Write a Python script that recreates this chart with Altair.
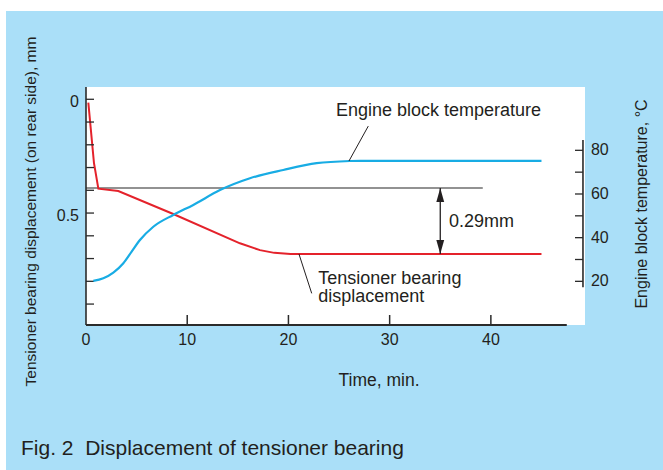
import altair as alt
import pandas as pd

# ---- data -------------------------------------------------------------
# Tensioner bearing displacement (mm) vs time (min)
disp_time = [0.23, 0.79, 1.22, 3.19, 8.62, 15.21, 17.19, 18.6, 20.2, 30.0, 45.0]
disp_mm = [0.015, 0.281, 0.393, 0.403, 0.504, 0.633, 0.663, 0.675, 0.68, 0.68, 0.68]

# Engine block temperature (deg C) vs time (min)
temp_time = [0.72, 1.71, 2.70, 3.69, 4.51, 5.33, 6.65, 8.62, 10.60, 13.24,
             16.20, 19.49, 22.79, 26.08, 27.07, 45.0]
temp_c = [20.2, 21.4, 24.0, 28.3, 33.6, 38.9, 45.0, 50.4, 55.0, 61.8,
          67.2, 71.0, 74.1, 75.1, 75.2, 75.2]

# initial settled level and the change after warm-up
ref_level = 0.39
shift_mm = 0.29
ref_end_time = 39.2
arrow_time = 35.0

x_ticks = [0, 10, 20, 30, 40]
x_labels = ["0", "10", "20", "30", "40"]
disp_ticks = [0, 0.1, 0.2, 0.3, 0.4, 0.5, 0.6, 0.7, 0.8, 0.9]
disp_labels = ["0", "", "", "", "", "0.5", "", "", "", ""]
temp_ticks = [20, 30, 40, 50, 60, 70, 80]
temp_labels = ["20", "", "40", "", "60", "", "80"]

# ---- style ------------------------------------------------------------
W, H = 499, 238
PAD_L, PAD_T = 86, 87
FONT = "Liberation Sans"
INK = "#231f20"
AXIS = "#2b2b2b"
SKY = "#aadff8"
RED = "#e4222b"
CYAN = "#18ace4"
GREY = "#6e6e6e"

X_DOM = [0, 49.3]
D_DOM = [-0.054, 0.992]
T_DOM = [0, 109]
RIGHT_AXIS_T = 49.1          # time position of the temperature axis line
X_AXIS_END = 47.5

xs = alt.Scale(domain=X_DOM, nice=False, zero=False)
ds = alt.Scale(domain=D_DOM, reverse=True, nice=False, zero=False)
ts = alt.Scale(domain=T_DOM, nice=False, zero=False)

one = pd.DataFrame({"k": [0]})


def X(field, **kw):
    return alt.X(field, type="quantitative", scale=xs, axis=None, **kw)


def D(field, **kw):
    return alt.Y(field, type="quantitative", scale=ds, axis=None, **kw)


def T(field, **kw):
    return alt.Y(field, type="quantitative", scale=ts, axis=None, **kw)


# ---- panel backgrounds ------------------------------------------------
sky = alt.Chart(one).mark_rect(color=SKY).encode(
    x=alt.value(-80), x2=alt.value(577), y=alt.value(-76), y2=alt.value(383)
)
paper = alt.Chart(one).mark_rect(color="white").encode(
    x=alt.value(0), x2=alt.value(W), y=alt.value(0), y2=alt.value(H)
)

# ---- displacement side -------------------------------------------------
disp_df = pd.DataFrame({"t": disp_time, "d": disp_mm})
disp_line = alt.Chart(disp_df).mark_line(color=RED, strokeWidth=2).encode(
    x=X("t"), y=D("d")
)

ref_df = pd.DataFrame({"t0": [0], "t1": [ref_end_time], "d": [ref_level]})
ref_rule = alt.Chart(ref_df).mark_rule(color=GREY, strokeWidth=1.5).encode(
    x=X("t0"), x2="t1", y=D("d")
)

arrow_df = pd.DataFrame({"t": [arrow_time], "d0": [ref_level],
                         "d1": [ref_level + shift_mm]})
arrow_shaft = alt.Chart(arrow_df).mark_rule(color=INK, strokeWidth=1.3).encode(
    x=X("t"), y=D("d0"), y2="d1"
)
head_up = alt.Chart(arrow_df).mark_point(
    shape="M0,0L0.28,1L-0.28,1Z", size=784, filled=True, opacity=1, color=INK
).encode(x=X("t"), y=D("d0"))
head_down = alt.Chart(arrow_df).mark_point(
    shape="M0,0L0.28,-1L-0.28,-1Z", size=784, filled=True, opacity=1, color=INK
).encode(x=X("t"), y=D("d1"))

shift_label = alt.Chart(pd.DataFrame({"t": [35.86], "d": [0.538],
                                      "s": [f"{shift_mm:.2f}mm"]})).mark_text(
    align="left", baseline="middle", font=FONT, fontSize=18, color=INK
).encode(x=X("t"), y=D("d"), text="s:N")

disp_name = alt.Chart(pd.DataFrame({
    "t": [22.95, 22.95], "d": [0.789, 0.871],
    "s": ["Tensioner bearing", "displacement"]})).mark_text(
    align="left", baseline="middle", font=FONT, fontSize=18, color=INK
).encode(x=X("t"), y=D("d"), text="s:N")

disp_leader = alt.Chart(pd.DataFrame({"t0": [21.04], "t1": [22.30],
                                      "d0": [0.68], "d1": [0.853]})).mark_rule(
    color=INK, strokeWidth=1
).encode(x=X("t0"), x2="t1", y=D("d0"), y2="d1")

# axis lines
left_line = alt.Chart(pd.DataFrame({"t": [0], "d0": [D_DOM[0]],
                                    "d1": [D_DOM[1]]})).mark_rule(
    color=AXIS, strokeWidth=1.6
).encode(x=X("t"), y=D("d0"), y2="d1")
bottom_line = alt.Chart(pd.DataFrame({"t0": [0], "t1": [X_AXIS_END],
                                      "d": [D_DOM[1]]})).mark_rule(
    color=AXIS, strokeWidth=2
).encode(x=X("t0"), x2="t1", y=D("d"))

# inward ticks and their labels
xtick_df = pd.DataFrame({"t": x_ticks, "s": x_labels})
x_tick_marks = alt.Chart(xtick_df[xtick_df.t > 0]).mark_tick(
    orient="vertical", size=10, thickness=1.5, color=AXIS, opacity=1
).encode(x=X("t"), y=alt.value(H - 5))
x_tick_text = alt.Chart(xtick_df).mark_text(
    align="center", baseline="top", font=FONT, fontSize=16, color=INK
).encode(x=X("t"), y=alt.value(H + 7), text="s:N")

dtick_df = pd.DataFrame({"d": disp_ticks, "s": disp_labels})
d_tick_marks = alt.Chart(dtick_df).mark_tick(
    orient="horizontal", size=8, thickness=1.3, color=AXIS, opacity=1
).encode(y=D("d"), x=alt.value(4))
d_tick_text = alt.Chart(dtick_df).mark_text(
    align="right", baseline="middle", font=FONT, fontSize=16, color=INK, dy=3
).encode(y=D("d"), x=alt.value(-7), text="s:N")

# titles and caption
left_title = alt.Chart(one).mark_text(
    angle=270, align="center", baseline="middle", font=FONT, fontSize=15.5,
    color=INK, text="Tensioner bearing displacement (on rear side), mm"
).encode(x=alt.value(-55), y=alt.value(124.5))
right_title = alt.Chart(one).mark_text(
    angle=270, align="center", baseline="middle", font=FONT, fontSize=16,
    color=INK, text="Engine block temperature, °C"
).encode(x=alt.value(555.7), y=alt.value(117))
x_title = alt.Chart(one).mark_text(
    align="center", baseline="middle", font=FONT, fontSize=17.5, color=INK,
    text="Time, min."
).encode(x=alt.value(293), y=alt.value(293.7))
caption = alt.Chart(one).mark_text(
    align="left", baseline="middle", font=FONT, fontSize=21, color=INK,
    text="Fig. 2\u00a0 Displacement of tensioner bearing"
).encode(x=alt.value(-65), y=alt.value(362))

disp_group = alt.layer(
    sky, paper, ref_rule, disp_line, arrow_shaft, head_up, head_down,
    shift_label, disp_name, disp_leader, left_line, bottom_line,
    x_tick_marks, x_tick_text, d_tick_marks, d_tick_text,
    left_title, right_title, x_title, caption
)

# ---- temperature side -------------------------------------------------
temp_df = pd.DataFrame({"t": temp_time, "c": temp_c})
temp_line = alt.Chart(temp_df).mark_line(
    color=CYAN, strokeWidth=2.2, interpolate="monotone"
).encode(x=X("t"), y=T("c"))

temp_name = alt.Chart(pd.DataFrame({"t": [24.70], "c": [98.1],
                                    "s": ["Engine block temperature"]})).mark_text(
    align="left", baseline="middle", font=FONT, fontSize=18, color=INK
).encode(x=X("t"), y=T("c"), text="s:N")
temp_leader = alt.Chart(pd.DataFrame({"t0": [27.89], "t1": [25.98],
                                      "c0": [91.1], "c1": [75.1]})).mark_rule(
    color=INK, strokeWidth=1
).encode(x=X("t0"), x2="t1", y=T("c0"), y2="c1")

right_line = alt.Chart(pd.DataFrame({"t": [RIGHT_AXIS_T], "c0": [17.3],
                                     "c1": [84.7]})).mark_rule(
    color=AXIS, strokeWidth=1.6
).encode(x=X("t"), y=T("c0"), y2="c1")

ttick_df = pd.DataFrame({"t": [RIGHT_AXIS_T] * len(temp_ticks),
                         "c": temp_ticks, "s": temp_labels})
t_tick_marks = alt.Chart(ttick_df).mark_tick(
    orient="horizontal", size=8, thickness=1.3, color=AXIS, opacity=1, xOffset=-4
).encode(x=X("t"), y=T("c"))
t_tick_text = alt.Chart(ttick_df).mark_text(
    align="left", baseline="middle", font=FONT, fontSize=16, color=INK, dx=8
).encode(x=X("t"), y=T("c"), text="s:N")

temp_group = alt.layer(temp_line, temp_name, temp_leader, right_line,
                       t_tick_marks, t_tick_text)

chart = (
    alt.layer(disp_group, temp_group)
    .resolve_scale(y="independent")
    .properties(
        width=W,
        height=H,
        background="white",
        padding={"left": PAD_L, "top": PAD_T, "right": 663 - PAD_L - W,
                 "bottom": 470 - PAD_T - H},
        autosize=alt.AutoSizeParams(type="none"),
    )
    .configure_view(stroke=None)
)

chart.save("out.html", embed_options={"renderer": "svg", "actions": False})
